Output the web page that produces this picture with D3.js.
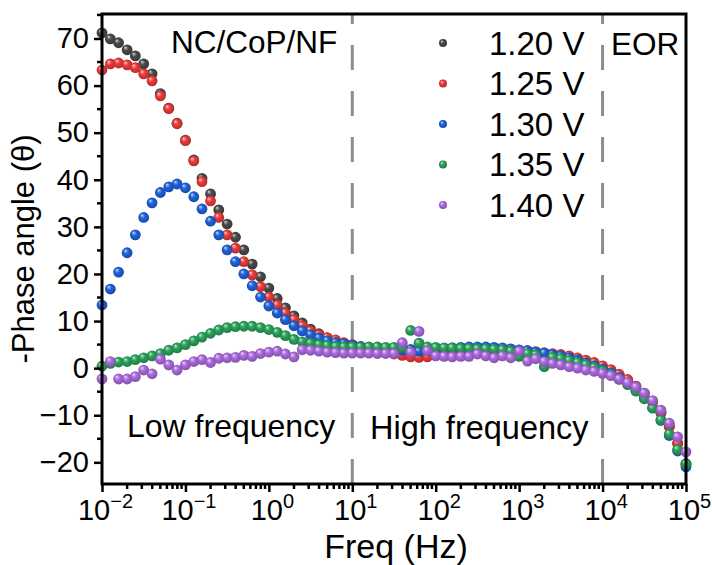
<!DOCTYPE html>
<html>
<head>
<meta charset="utf-8">
<script src="https://cdn.jsdelivr.net/npm/d3@7"></script>
<style>
  body { margin: 0; background: #fff; }
  svg { display: block; font-family: "Liberation Sans", Arial, sans-serif; }
</style>
</head>
<body>
<svg id="chart" width="712" height="565"></svg>
<script>
// frequencies (Hz), 10 points per decade
const freq = [
  0.01, 0.0126, 0.0158, 0.02, 0.0251, 0.0316, 0.0398, 0.0501, 0.0631, 0.0794,
  0.1, 0.126, 0.158, 0.2, 0.251, 0.316, 0.398, 0.501, 0.631, 0.794,
  1, 1.26, 1.58, 2, 2.51, 3.16, 3.98, 5.01, 6.31, 7.94,
  10, 12.6, 15.8, 20, 25.1, 31.6, 39.8, 50.1, 63.1, 79.4,
  100, 126, 158, 200, 251, 316, 398, 501, 631, 794,
  1000, 1260, 1580, 2000, 2510, 3160, 3980, 5010, 6310, 7940,
  10000, 12600, 15800, 20000, 25100, 31600, 39800, 50100, 63100, 79400,
  100000
];

const v120 = [
  71.2, 69.9, 69.1, 67.6, 66.3, 64.6, 62.5, 58.3, 55.2, 52.0,
  48.4, 44.2, 40.3, 37.0, 33.6, 30.6, 27.8, 25.1, 22.1, 19.4,
  17.0, 14.8, 12.8, 11.1, 9.6, 8.3, 7.3, 6.4, 5.8, 5.3,
  4.9, 4.5, 4.2, 3.9, 3.6, 3.3, 3.0, 2.8, 2.6, 2.6,
  2.8, 3.0, 3.2, 3.4, 3.5, 3.6, 3.7, 3.7, 3.7, 3.6,
  3.5, 3.4, 3.2, 3.0, 2.8, 2.5, 2.2, 1.8, 1.3, 0.8,
  0.2, -0.6, -1.5, -2.6, -3.9, -5.4, -7.2, -9.5, -12.4, -15.9,
  -20.3
];
const v125 = [
  63.3, 64.6, 64.8, 64.4, 63.8, 62.5, 61.0, 57.8, 55.1, 51.9,
  48.3, 44.0, 39.6, 35.5, 32.0, 28.3, 25.5, 22.6, 19.8, 17.3,
  15.1, 13.4, 11.7, 10.3, 9.0, 7.9, 7.1, 6.5, 6.0, 5.4,
  5.0, 4.5, 4.1, 3.7, 3.3, 3.0, 2.7, 2.4, 2.3, 2.4,
  2.7, 3.0, 3.3, 3.5, 3.7, 3.8, 3.9, 4.0, 4.0, 3.9,
  3.8, 3.7, 3.5, 3.3, 3.1, 2.9, 2.6, 2.2, 1.7, 1.2,
  0.5, -0.3, -1.3, -2.4, -3.8, -5.3, -7.1, -9.4, -12.4, -16.0,
  -20.5
];
const v130 = [
  13.4, 16.8, 20.4, 24.5, 28.3, 32.0, 35.1, 37.3, 38.5, 39.1,
  38.3, 36.4, 33.8, 31.2, 28.3, 25.1, 22.6, 20.0, 17.5, 15.1,
  13.2, 11.7, 10.3, 9.0, 7.9, 7.1, 6.4, 5.8, 5.4, 5.2,
  4.9, 4.6, 4.3, 4.1, 3.9, 3.8, 3.8, 4.0, 3.6, 3.7,
  3.9, 4.1, 4.3, 4.4, 4.5, 4.5, 4.5, 4.4, 4.3, 4.1,
  3.9, 3.7, 3.4, 3.2, 2.9, 2.6, 2.2, 1.7, 1.1, 0.5,
  -0.2, -1.0, -2.0, -3.2, -4.6, -6.3, -8.4, -11.1, -14.3, -17.6,
  -21.0
];
const v135 = [
  0.4, 1.0, 1.3, 1.4, 1.8, 2.2, 2.6, 3.1, 3.8, 4.3,
  5.0, 5.8, 6.6, 7.4, 8.1, 8.6, 8.8, 8.9, 8.9, 8.6,
  8.2, 7.6, 6.9, 6.1, 5.6, 5.3, 5.0, 4.8, 4.6, 4.5,
  4.5, 4.5, 4.5, 4.5, 4.4, 4.4, 4.4, 8.0, 5.3, 4.5,
  4.4, 4.3, 4.3, 4.2, 4.2, 4.1, 4.1, 4.0, 3.9, 3.6,
  2.5, 3.1, 2.8, 0.3, 2.3, 2.0, 1.6, 1.2, 0.7, 0.1,
  -0.6, -1.4, -2.4, -3.5, -4.9, -6.5, -8.5, -11.0, -14.0, -17.3,
  -20.3
];
const v140 = [
  -2.3, 1.4, -2.3, -2.3, -1.8, -0.4, -1.2, 1.9, 0.7, -0.4,
  0.7, 1.4, 1.8, 1.2, 2.1, 2.2, 2.3, 2.7, 2.5, 3.1,
  3.4, 3.6, 3.0, 2.4, 3.9, 3.8, 3.6, 3.4, 3.3, 3.2,
  3.2, 3.2, 3.2, 3.1, 3.1, 3.1, 5.4, 3.4, 7.8, 3.7,
  2.6, 2.5, 2.4, 2.5, 2.5, 3.0, 2.6, 2.2, 2.6, 2.2,
  3.6, 1.5, 2.0, 1.4, 1.0, 0.7, 0.3, 0.0, -0.4, -0.7,
  -1.1, -1.6, -2.3, -3.1, -4.0, -5.3, -6.9, -8.9, -11.7, -14.6,
  -17.8
];

const seriesNames = ['1.20 V', '1.25 V', '1.30 V', '1.35 V', '1.40 V'];
const seriesValues = [v120, v125, v130, v135, v140];
const seriesColors = ['#4a4a4a', '#ee3b3b', '#1f63dc', '#2aa45c', '#ad6ce0'];

const yTicks = [-20, -10, 0, 10, 20, 30, 40, 50, 60, 70];
const xTicks = [1e-2, 1e-1, 1e0, 1e1, 1e2, 1e3, 1e4, 1e5];
const dividers = [10, 10000];

const margin = {top: 14, right: 26, bottom: 81, left: 102};
const width = 712, height = 565;

const svg = d3.select('#chart');

const x = d3.scaleLog().domain([1e-2, 1e5]).range([margin.left, width - margin.right]);
const y = d3.scaleLinear().domain([-24.6, 75.2]).range([height - margin.bottom, margin.top]);

// sphere-looking gradients
const defs = svg.append('defs');
seriesColors.forEach((c, i) => {
  const g = defs.append('radialGradient')
      .attr('id', 'ball' + i)
      .attr('cx', '50%').attr('cy', '50%').attr('r', '55%')
      .attr('fx', '32%').attr('fy', '28%');
  g.append('stop').attr('offset', '0%').attr('stop-color', d3.interpolateRgb(c, '#fff')(0.75));
  g.append('stop').attr('offset', '40%').attr('stop-color', c);
  g.append('stop').attr('offset', '100%').attr('stop-color', d3.color(c).darker(0.9));
});

// dashed dividers
svg.append('g').selectAll('line')
  .data(dividers)
  .join('line')
    .attr('x1', d => x(d)).attr('x2', d => x(d))
    .attr('y1', y.range()[0]).attr('y2', y.range()[1])
    .attr('stroke', '#8c8c8c')
    .attr('stroke-width', 3)
    .attr('stroke-dasharray', '25,21');

// data points
const plot = svg.append('g');
seriesValues.forEach((vals, i) => {
  plot.append('g').selectAll('circle')
    .data(vals)
    .join('circle')
      .attr('cx', (d, k) => x(freq[k]))
      .attr('cy', d => y(d))
      .attr('r', 5.4)
      .attr('fill', 'url(#ball' + i + ')');
});

// axes
const yAxis = d3.axisLeft(y).tickValues(yTicks).tickSize(8).tickPadding(5).tickFormat(d3.format('d'));
const gy = svg.append('g').attr('transform', `translate(${margin.left},0)`).call(yAxis);
const yMinor = d3.range(-25, 76, 5).filter(v => v % 10 !== 0 && v >= -24.6 && v <= 75.2);
svg.append('g').selectAll('line').data(yMinor).join('line')
  .attr('x1', margin.left - 5).attr('x2', margin.left)
  .attr('y1', d => y(d)).attr('y2', d => y(d))
  .attr('stroke', '#000').attr('stroke-width', 2.5);

const xAxis = d3.axisBottom(x).tickValues(xTicks).tickSize(8).tickPadding(4).tickFormat('');
const gx = svg.append('g').attr('transform', `translate(0,${height - margin.bottom})`).call(xAxis);
const xMinor = [];
for (let e = -2; e < 5; e++) for (let m = 2; m < 10; m++) xMinor.push(m * Math.pow(10, e));
svg.append('g').selectAll('line').data(xMinor).join('line')
  .attr('x1', d => x(d)).attr('x2', d => x(d))
  .attr('y1', height - margin.bottom).attr('y2', height - margin.bottom + 5)
  .attr('stroke', '#000').attr('stroke-width', 2.5);

[gx, gy].forEach(g => {
  g.select('.domain').remove();
  g.selectAll('.tick line').attr('stroke', '#000').attr('stroke-width', 2.5);
});
gy.selectAll('.tick text').attr('font-size', 29).attr('fill', '#000')
  .attr('font-family', '"Liberation Sans", Arial, sans-serif');

// x tick labels 10^n
gx.selectAll('.tick').each(function(d) {
  const t = d3.select(this).append('text')
      .attr('y', 36).attr('x', 3).attr('text-anchor', 'middle').attr('fill', '#000')
      .attr('font-family', '"Liberation Sans", Arial, sans-serif');
  t.append('tspan').attr('font-size', 29).text('10');
  t.append('tspan').attr('font-size', 20).attr('dy', -12)
    .text(String(Math.round(Math.log10(d))).replace('-', '\u2212'));
});

// frame
svg.append('rect')
  .attr('x', margin.left).attr('y', margin.top)
  .attr('width', width - margin.left - margin.right)
  .attr('height', height - margin.top - margin.bottom)
  .attr('fill', 'none').attr('stroke', '#000').attr('stroke-width', 3);

// annotations
const notes = [
  {t: 'NC/CoP/NF', x: 171, y: 53, s: 31.5},
  {t: 'EOR', x: 611, y: 55, s: 31.5},
  {t: 'Low frequency', x: 127, y: 437, s: 32},
  {t: 'High frequency', x: 370, y: 439, s: 32.5}
];
svg.append('g').selectAll('text').data(notes).join('text')
  .attr('x', d => d.x).attr('y', d => d.y)
  .attr('font-size', d => d.s).attr('fill', '#000')
  .text(d => d.t);

// legend
const legend = svg.append('g');
seriesNames.forEach((name, i) => {
  const ly = 43 + i * 40.5;
  legend.append('circle').attr('cx', 443).attr('cy', ly).attr('r', 4)
    .attr('fill', 'url(#ball' + i + ')');
  legend.append('text').attr('x', 489).attr('y', ly + 11.5)
    .attr('font-size', 33).attr('fill', '#000').text(name);
});

// axis titles
svg.append('text')
  .attr('transform', 'translate(34,249) rotate(-90)')
  .attr('text-anchor', 'middle').attr('font-size', 31).attr('fill', '#000')
  .text('-Phase angle (\u03b8)');
svg.append('text')
  .attr('x', 396).attr('y', 558)
  .attr('text-anchor', 'middle').attr('font-size', 34).attr('fill', '#000')
  .text('Freq (Hz)');
</script>
</body>
</html>
